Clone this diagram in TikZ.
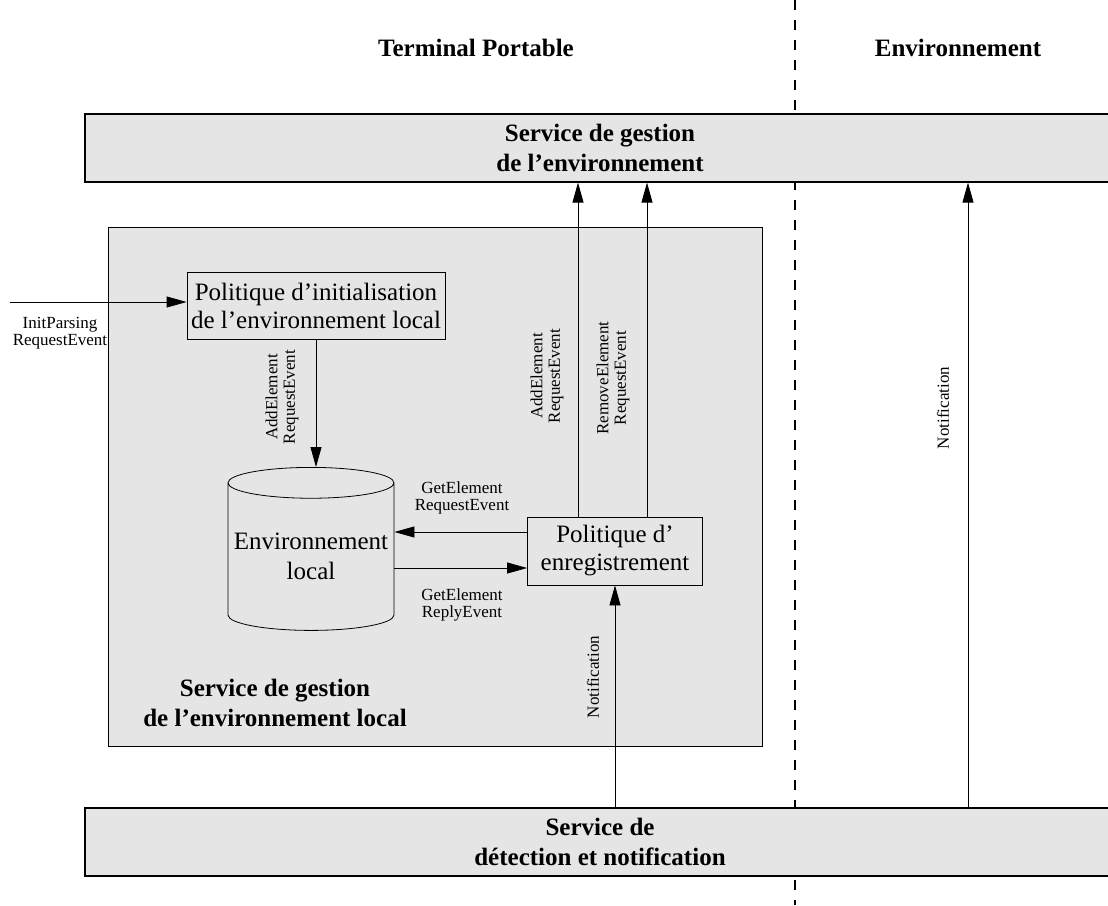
\documentclass[tikz,border=0pt]{standalone}
\usepackage{fontspec}
\setmainfont{Liberation Serif}
\usetikzlibrary{arrows.meta,shapes.geometric}

\begin{document}
\begin{tikzpicture}[x=1pt,y=-1pt,
	band/.style={rectangle,draw,fill=black!10,line width=1.2pt,minimum width=1030pt,minimum height=68pt,inner sep=0pt,font=\fontsize{25}{30}\selectfont\bfseries,align=center},
	pol/.style={rectangle,draw,fill=black!10,line width=0.8pt,inner sep=0pt,font=\fontsize{25}{28}\selectfont,align=center},
	title/.style={font=\fontsize{25}{30}\selectfont\bfseries,align=center,inner sep=0pt},
	lbl/.style={font=\fontsize{17}{17.5}\selectfont,align=center,inner sep=0pt},
	flow/.style={line width=0.8pt,-{Triangle[length=20pt,width=11pt]}}]
	\useasboundingbox (0,0) rectangle (1108,905);
	% frontiere terminal / environnement
	\draw[line width=1.2pt,dash pattern=on 10pt off 10pt] (795,0) -- (795,905);
	\node[title] (term) at (476,48) {Terminal Portable};
	\node[title] (envt) at (958,48) {Environnement};

	\node[band] (topband) at (600,148) {Service de gestion\\de l'environnement};
	\node[band] (botband) at (600,842) {Service de\\détection et notification};

	% service local
	\node[rectangle,draw,fill=black!10,line width=0.8pt,minimum width=654pt,minimum height=519pt] (local) at (435,486.5) {};
	\node[title] (loctitle) at (275,703) {Service de gestion\\de l'environnement local};
	\node[pol,minimum width=258pt,minimum height=67pt] (init) at (316,306) {Politique d'initialisation\\de l'environnement local};
	\node[pol,minimum width=175pt,minimum height=68pt] (enreg) at (615,551) {Politique d'\\enregistrement};
	\node[cylinder,shape border rotate=90,draw,fill=black!10,line width=0.8pt,aspect=0.2,minimum width=166pt,minimum height=163pt,inner sep=0pt,font=\fontsize{25}{30}\selectfont,align=center,anchor=north] (db) at (311,467) {Environnement\\local};

	\coordinate (src) at (10,302);
	\coordinate (envx) at (968,0);
	\draw[flow] (src) -- (src -| init.west);
	\draw[flow] (init) -- (init |- db.north);
	\draw[flow] ([yshift=19pt]enreg.west) -- ([yshift=19pt]enreg.west -| db.east);
	\draw[flow] ([yshift=-17pt]enreg.west -| db.east) -- ([yshift=-17pt]enreg.west);
	\draw[flow] ([xshift=-37pt]enreg.north) -- ([xshift=-37pt]enreg.north |- topband.south);
	\draw[flow] ([xshift=32pt]enreg.north) -- ([xshift=32pt]enreg.north |- topband.south);
	\draw[flow] (enreg.south |- botband.north) -- (enreg.south);
	\draw[flow] (envx |- botband.north) -- (envx |- topband.south);

	% messages
	\node[lbl] (l1) at (60,333) {InitParsing\\RequestEvent};
	\node[lbl,rotate=90] (l2) at (282,397) {AddElement\\RequestEvent};
	\node[lbl] (l3) at (462,498) {GetElement\\RequestEvent};
	\node[lbl] (l4) at (462,605) {GetElement\\ReplyEvent};
	\node[lbl,rotate=90] (l5) at (547,376) {AddElement\\RequestEvent};
	\node[lbl,rotate=90] (l6) at (613,378) {RemoveElement\\RequestEvent};
	\node[lbl,rotate=90] (l7) at (593,677) {Notification};
	\node[lbl,rotate=90] (l8) at (943,408) {Notification};
\end{tikzpicture}
\end{document}
